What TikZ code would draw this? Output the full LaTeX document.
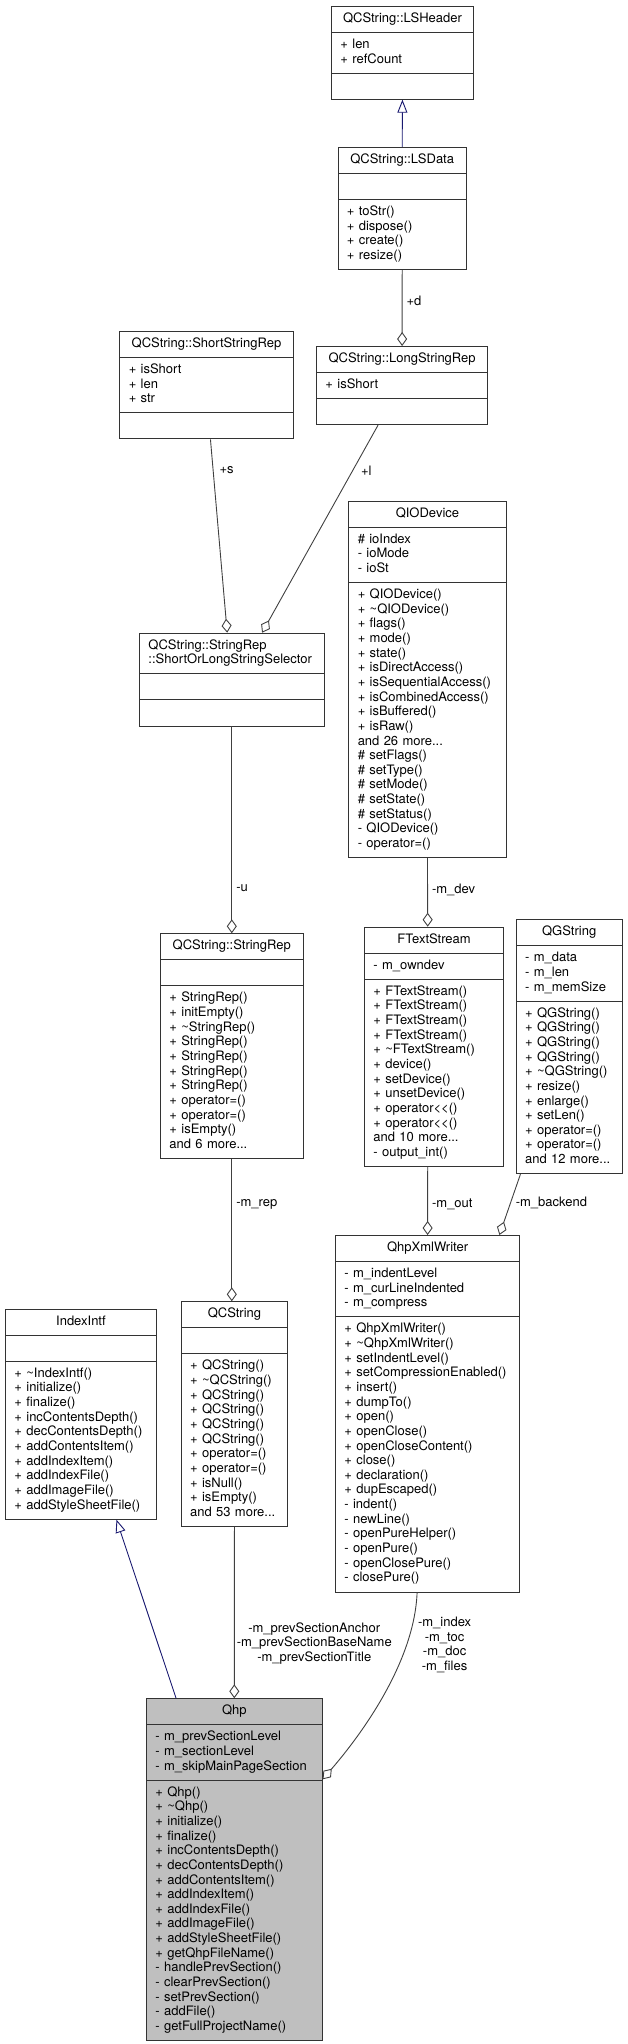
\documentclass[tikz,border=0pt]{standalone}
\usepackage{fontspec}
\newfontfamily\dxfont{TeX Gyre Heros}
\usetikzlibrary{shapes.multipart,arrows.meta}
\definecolor{edgegrey}{HTML}{404040}
\definecolor{inhblue}{HTML}{191970}
\definecolor{boxgrey}{HTML}{BFBFBF}
\newcommand{\clsname}[1]{\makebox[\linewidth]{\strut #1}}

\begin{document}
\begin{tikzpicture}[x=1pt,y=-1pt]
   \tikzstyle{every node}=[font=\dxfont\fontsize{13}{14.65}\selectfont]
   \tikzstyle{cls}=[draw=black!80,line width=0.9pt,fill=white,rectangle split,rectangle split parts=3,anchor=north west,inner xsep=9pt,inner ysep=5.25pt,align=left]
   \tikzstyle{lbl}=[inner sep=1pt,text=black]
   \tikzstyle{aggr}=[edgegrey,line width=0.9pt,-{Diamond[open,length=14pt,width=10pt]}]
   \tikzstyle{inh}=[inhblue,line width=0.9pt,-{Triangle[open,length=13pt,width=10pt]}]
   \useasboundingbox (0,0) rectangle (627,2044);

   \node (lsheader) [cls,text width=124pt] at (331,6) {\clsname{QCString::LSHeader}
      \nodepart{two}\strut + len\\+ refCount\strut
      \nodepart{three}\strut};
   \node (lsdata) [cls,text width=110.5pt] at (337.5,147) {\clsname{QCString::LSData}
      \nodepart{two}\strut
      \nodepart{three}\strut + toStr()\\+ dispose()\\+ create()\\+ resize()\strut};
   \node (longrep) [cls,text width=153.3pt] at (316,346) {\clsname{QCString::LongStringRep}
      \nodepart{two}\strut + isShort\strut
      \nodepart{three}\strut};
   \node (shortrep) [cls,text width=155.4pt] at (119.3,331) {\clsname{QCString::ShortStringRep}
      \nodepart{two}\strut + isShort\\+ len\\+ str\strut
      \nodepart{three}\strut};
   \node (selector) [cls,text width=166.7pt] at (139,632.7) {\strut QCString::StringRep\\::ShortOrLongStringSelector\strut
      \nodepart{two}\strut
      \nodepart{three}\strut};
   \node (qiodev) [cls,text width=139.4pt] at (348.3,500.7) {\clsname{QIODevice}
      \nodepart{two}\strut \# ioIndex\\- ioMode\\- ioSt\strut
      \nodepart{three}\strut + QIODevice()\\+ \textasciitilde QIODevice()\\+ flags()\\+ mode()\\+ state()\\+ isDirectAccess()\\+ isSequentialAccess()\\+ isCombinedAccess()\\+ isBuffered()\\+ isRaw()\\and 26 more...\\\# setFlags()\\\# setType()\\\# setMode()\\\# setState()\\\# setStatus()\\- QIODevice()\\- operator=()\strut};
   \node (stringrep) [cls,text width=124.7pt] at (160,933.3) {\clsname{QCString::StringRep}
      \nodepart{two}\strut
      \nodepart{three}\strut + StringRep()\\+ initEmpty()\\+ \textasciitilde StringRep()\\+ StringRep()\\+ StringRep()\\+ StringRep()\\+ StringRep()\\+ operator=()\\+ operator=()\\+ isEmpty()\\and 6 more...\strut};
   \node (ftext) [cls,text width=121.3pt] at (364,926.7) {\clsname{FTextStream}
      \nodepart{two}\strut - m\_owndev\strut
      \nodepart{three}\strut + FTextStream()\\+ FTextStream()\\+ FTextStream()\\+ FTextStream()\\+ \textasciitilde FTextStream()\\+ device()\\+ setDevice()\\+ unsetDevice()\\+ operator<<()\\+ operator<<()\\and 10 more...\\- output\_int()\strut};
   \node (qgstring) [cls,text width=88pt] at (515.7,919.3) {\clsname{QGString}
      \nodepart{two}\strut - m\_data\\- m\_len\\- m\_memSize\strut
      \nodepart{three}\strut + QGString()\\+ QGString()\\+ QGString()\\+ QGString()\\+ \textasciitilde QGString()\\+ resize()\\+ enlarge()\\+ setLen()\\+ operator=()\\+ operator=()\\and 12 more...\strut};
   \node (qhpxml) [cls,text width=166.3pt] at (335,1235) {\clsname{QhpXmlWriter}
      \nodepart{two}\strut - m\_indentLevel\\- m\_curLineIndented\\- m\_compress\strut
      \nodepart{three}\strut + QhpXmlWriter()\\+ \textasciitilde QhpXmlWriter()\\+ setIndentLevel()\\+ setCompressionEnabled()\\+ insert()\\+ dumpTo()\\+ open()\\+ openClose()\\+ openCloseContent()\\+ close()\\+ declaration()\\+ dupEscaped()\\- indent()\\- newLine()\\- openPureHelper()\\- openPure()\\- openClosePure()\\- closePure()\strut};
   \node (indexintf) [cls,text width=133pt] at (5,1308.7) {\clsname{IndexIntf}
      \nodepart{two}\strut
      \nodepart{three}\strut + \textasciitilde IndexIntf()\\+ initialize()\\+ finalize()\\+ incContentsDepth()\\+ decContentsDepth()\\+ addContentsItem()\\+ addIndexItem()\\+ addIndexFile()\\+ addImageFile()\\+ addStyleSheetFile()\strut};
   \node (qcstring) [cls,text width=88.6pt] at (180.7,1301.3) {\clsname{QCString}
      \nodepart{two}\strut
      \nodepart{three}\strut + QCString()\\+ \textasciitilde QCString()\\+ QCString()\\+ QCString()\\+ QCString()\\+ QCString()\\+ operator=()\\+ operator=()\\+ isNull()\\+ isEmpty()\\and 53 more...\strut};
   \node (qhp) [cls,fill=boxgrey,text width=157.7pt] at (146,1698.3) {\clsname{Qhp}
      \nodepart{two}\strut - m\_prevSectionLevel\\- m\_sectionLevel\\- m\_skipMainPageSection\strut
      \nodepart{three}\strut + Qhp()\\+ \textasciitilde Qhp()\\+ initialize()\\+ finalize()\\+ incContentsDepth()\\+ decContentsDepth()\\+ addContentsItem()\\+ addIndexItem()\\+ addIndexFile()\\+ addImageFile()\\+ addStyleSheetFile()\\+ getQhpFileName()\\- handlePrevSection()\\- clearPrevSection()\\- setPrevSection()\\- addFile()\\- getFullProjectName()\strut};

   \draw [inh] (lsdata.north) -- (lsheader.south) ;
   \draw [aggr] (lsdata.south) -- node[lbl,right=3pt,pos=0.41] {+d} (longrep.north) ;
   \draw [aggr] ([xshift=4pt]shortrep.south) -- node[lbl,right=5pt,pos=0.16] {+s} ([xshift=-4.6pt]selector.north) ;
   \draw [aggr] ([xshift=-24pt]longrep.south) -- node[lbl,right=7pt,pos=0.22] {+l} ([xshift=30.3pt]selector.north) ;
   \draw [aggr] (selector.south) -- node[lbl,right=3pt,pos=0.78] {-u} (stringrep.north) ;
   \draw [aggr] (stringrep.south) -- node[lbl,right=3pt,pos=0.32] {-m\_rep} (stringrep.south |- qcstring.north) ;
   \draw [aggr] (qiodev.south) -- node[lbl,right=3pt,pos=0.46] {-m\_dev} ([xshift=-6.4pt]ftext.north) ;
   \draw [aggr] ([xshift=-6.4pt]ftext.south) -- node[lbl,right=3pt,pos=0.55] {-m\_out} (qhpxml.north) ;
   \draw [aggr] ([xshift=-48.7pt]qgstring.south) -- node[lbl,right=4pt,pos=0.48] {-m\_backend} ([xshift=71.8pt]qhpxml.north) ;
   \draw [aggr] (qcstring.south) -- node[lbl,right=1pt,pos=0.68,align=center] {-m\_prevSectionAnchor\\-m\_prevSectionBaseName\\-m\_prevSectionTitle} (qhp.north) ;
   \draw [aggr] ([xshift=-10.5pt]qhpxml.south) .. controls +(-2.7,70) and +(38.3,-44.3) .. node[lbl,right=10pt,pos=0.25,align=center] {-m\_index\\-m\_toc\\-m\_doc\\-m\_files} ([yshift=-81pt]qhp.north east) ;
   \draw [inh] ([xshift=-58.2pt]qhp.north) -- ([xshift=35.5pt]indexintf.south) ;

\end{tikzpicture}
\end{document}
